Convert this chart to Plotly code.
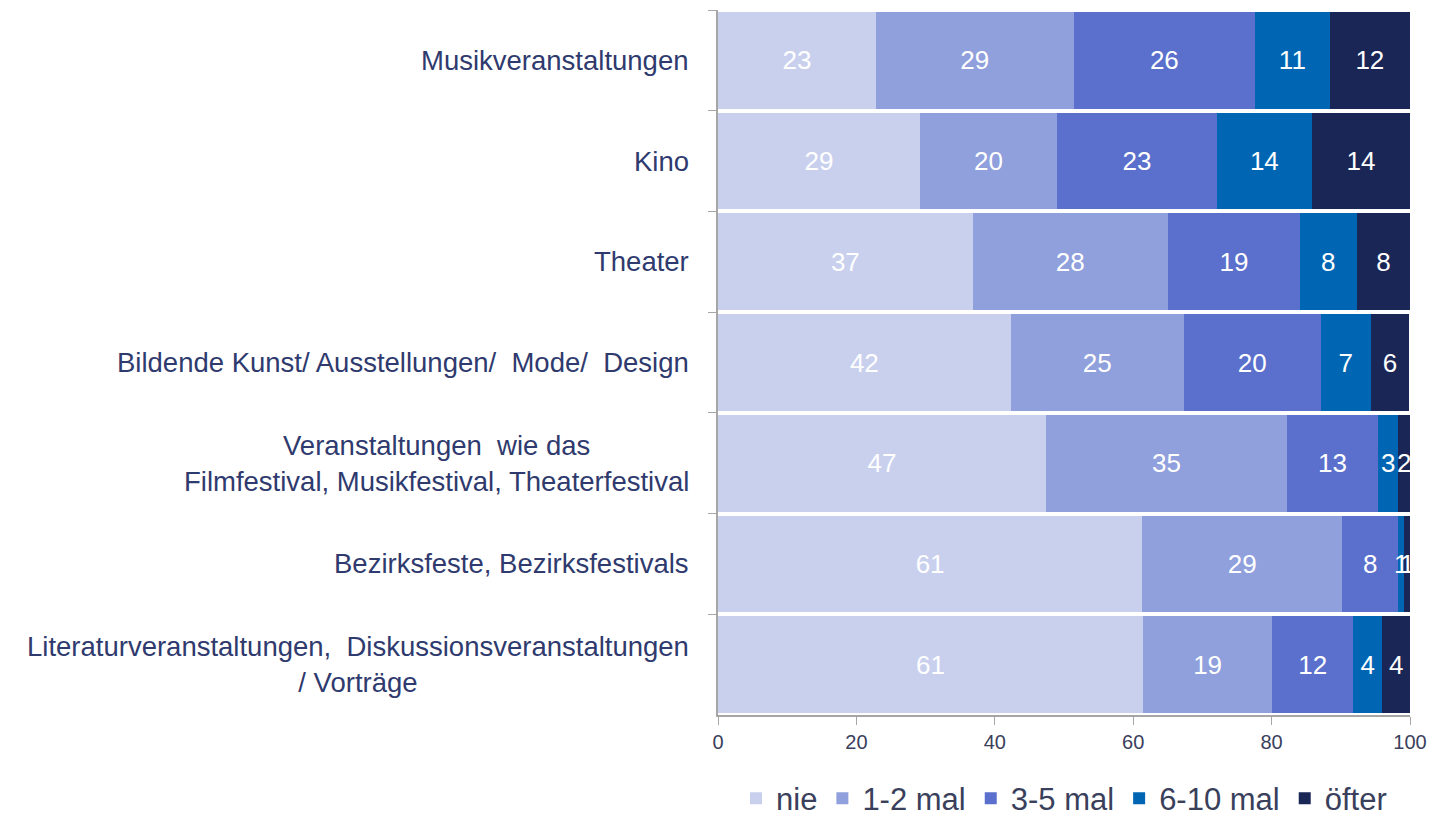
import plotly.graph_objects as go

categories = [
    "Musikveranstaltungen",
    "Kino",
    "Theater",
    "Bildende Kunst/ Ausstellungen/  Mode/  Design",
    "Veranstaltungen  wie das<br>Filmfestival, Musikfestival, Theaterfestival",
    "Bezirksfeste, Bezirksfestivals",
    "Literaturveranstaltungen,  Diskussionsveranstaltungen<br>/ Vorträge",
]
series_names = ["nie", "1-2 mal", "3-5 mal", "6-10 mal", "öfter"]
nie = [22.8, 29.2, 36.8, 42.3, 47.4, 61.3, 61.4]
mal_1_2 = [28.6, 19.8, 28.2, 25.0, 34.8, 28.9, 18.7]
mal_3_5 = [26.2, 23.1, 19.1, 19.8, 13.2, 8.1, 11.7]
mal_6_10 = [10.8, 13.7, 8.2, 7.2, 2.9, 0.9, 4.2]
oefter = [11.6, 14.2, 7.7, 5.6, 1.7, 0.8, 4.0]
x_ticks = [0, 20, 40, 60, 80, 100]

values = [nie, mal_1_2, mal_3_5, mal_6_10, oefter]
colors = ["#c8d0ee", "#8fa0dc", "#5a70cc", "#0066b3", "#1a2656"]

fig = go.Figure()
for name, vals, col in zip(series_names, values, colors):
    fig.add_trace(go.Bar(
        y=categories, x=vals, name=name, orientation="h",
        marker=dict(color=col, line=dict(width=0)),
        texttemplate="%{x:.0f}", textposition="inside", insidetextanchor="middle",
        constraintext="none",
        textfont=dict(color="white", size=26, family="Liberation Sans, Arial, sans-serif"),
        hoverinfo="skip",
    ))

label_color = "#2f3a6e"
for c in categories:
    fig.add_annotation(
        x=0, xref="paper", y=c, yref="y", xanchor="right", yanchor="middle",
        xshift=-27, text=c, showarrow=False, align="center",
        font=dict(size=27.5, color=label_color, family="Liberation Sans, Arial, sans-serif"),
    )

fig.update_layout(
    barmode="stack",
    bargap=0.04,
    width=1445, height=816,
    margin=dict(l=710, r=43, t=2, b=109),
    paper_bgcolor="white", plot_bgcolor="white",
    font=dict(family="Liberation Sans, Arial, sans-serif", color="#3a3f5c"),
    xaxis=dict(
        range=[0, 100], tickvals=x_ticks, showgrid=False, zeroline=False,
        showline=True, linecolor="#a6a6a6", linewidth=1.5,
        ticks="outside", ticklen=8, tickcolor="#a6a6a6",
        tickfont=dict(size=20, color="#3a3f5c",
                      family="Liberation Sans Narrow, Arial Narrow, Liberation Sans, sans-serif"),
    ),
    yaxis=dict(
        autorange="reversed", showticklabels=False, showgrid=False,
        showline=True, linecolor="#a6a6a6", linewidth=1.5,
        ticks="outside", ticklen=8, tickcolor="#a6a6a6", tickson="boundaries",
    ),
    showlegend=True,
    legend=dict(
        orientation="h", x=0.5, xanchor="center", y=0.031, yref="container", yanchor="middle",
        font=dict(size=31, color="#3a3f5c"), traceorder="normal",
    ),
)

fig.write_html("out.html")
